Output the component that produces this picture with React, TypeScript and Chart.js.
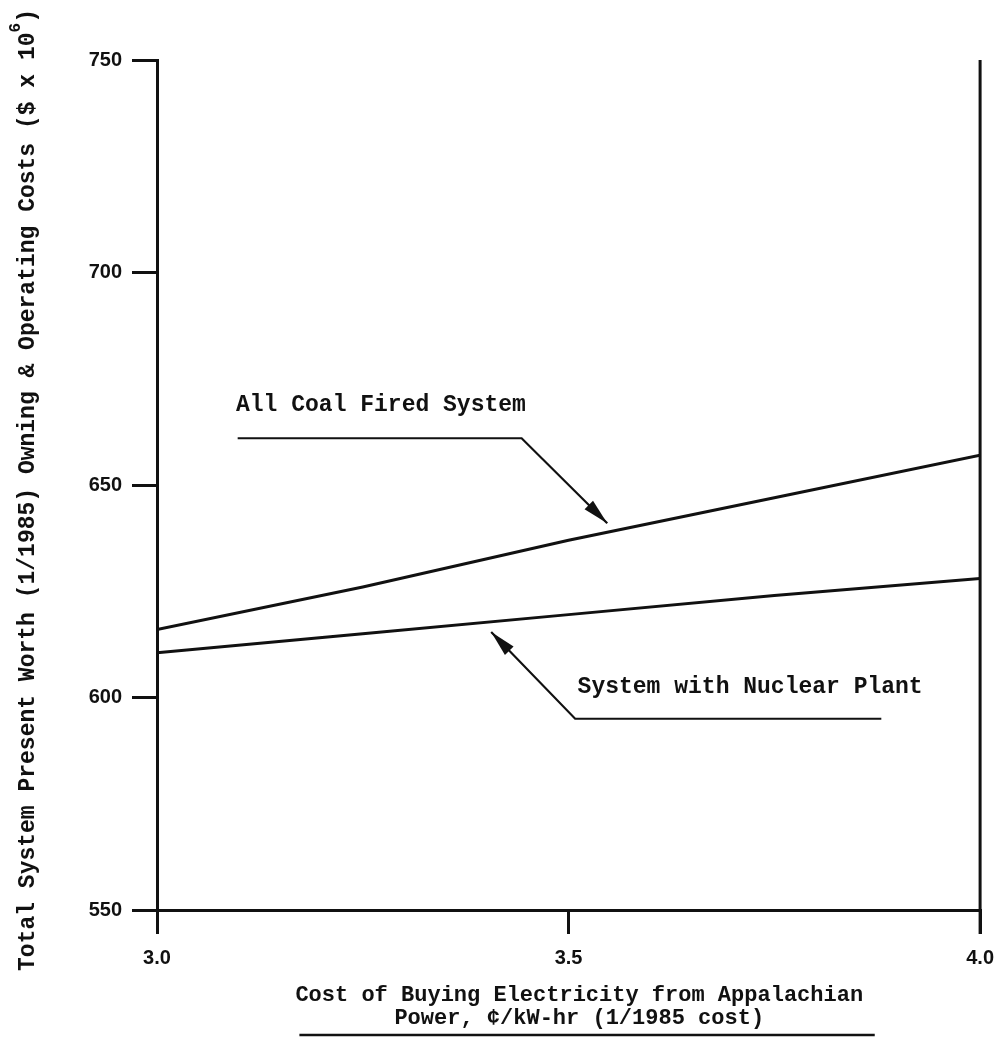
import React, { useEffect, useRef } from 'react';
import { Chart, registerables } from 'chart.js';

Chart.register(...registerables);

// ---- data ----
const costPerKwh = [3.0, 3.25, 3.5, 3.75, 4.0];
const coalFired = [616, 626, 637, 647, 657];
const withNuclear = [610.5, 615, 619.5, 624, 628];
const xTickValues = [3.0, 3.5, 4.0];
const yTickValues = [550, 600, 650, 700, 750];
const yTitleMain = 'Total System Present Worth (1/1985) Owning & Operating Costs ($ x 10';
const yTitleSup = '6';
const yTitleEnd = ')';
const xTitleLines = ['Cost of Buying Electricity from Appalachian', 'Power, \u00a2/kW-hr (1/1985 cost)'];
const coalLabel = 'All Coal Fired System';
const nuclearLabel = 'System with Nuclear Plant';

// annotation anchors in data units (x, y)
const coalTextAt = [3.096, 668.8];
const coalLeader = [[3.098, 661], [3.443, 661], [3.547, 641]];
const nuclearTextAt = [3.511, 602.5];
const nuclearLeader = [[3.88, 595], [3.508, 595], [3.406, 615.4]];
const xTitleCenter = 3.513;
const xTitleUnderline = [3.173, 3.872];

const INK = '#111111';
const MONO = '"Liberation Mono", "DejaVu Sans Mono", monospace';
const SANS = '"Liberation Sans", Arial, sans-serif';

function drawArrow(ctx: CanvasRenderingContext2D, pts: number[][]) {
  ctx.beginPath();
  ctx.moveTo(pts[0][0], pts[0][1]);
  for (let i = 1; i < pts.length; i++) ctx.lineTo(pts[i][0], pts[i][1]);
  ctx.stroke();
  const [x1, y1] = pts[pts.length - 2];
  const [x2, y2] = pts[pts.length - 1];
  const ang = Math.atan2(y2 - y1, x2 - x1);
  const len = 26;
  const hw = 6;
  const bx = x2 - len * Math.cos(ang);
  const by = y2 - len * Math.sin(ang);
  ctx.beginPath();
  ctx.moveTo(x2, y2);
  ctx.lineTo(bx + hw * Math.sin(ang), by - hw * Math.cos(ang));
  ctx.lineTo(bx - hw * Math.sin(ang), by + hw * Math.cos(ang));
  ctx.closePath();
  ctx.fill();
}

const decorPlugin = {
  id: 'decor',
  afterDraw(chart: any) {
    const ctx: CanvasRenderingContext2D = chart.ctx;
    const xs = chart.scales.x;
    const ys = chart.scales.y;
    const area = chart.chartArea;
    const px = (v: number) => xs.getPixelForValue(v);
    const py = (v: number) => ys.getPixelForValue(v);
    ctx.save();
    ctx.strokeStyle = INK;
    ctx.fillStyle = INK;

    // right frame line
    ctx.lineWidth = 3;
    ctx.beginPath();
    ctx.moveTo(area.right, area.top);
    ctx.lineTo(area.right, area.bottom + 24);
    ctx.stroke();

    // annotations
    ctx.lineWidth = 2.2;
    ctx.font = `bold 23px ${MONO}`;
    ctx.textBaseline = 'middle';
    ctx.textAlign = 'left';
    ctx.fillText(coalLabel, px(coalTextAt[0]), py(coalTextAt[1]));
    drawArrow(ctx, coalLeader.map(([a, b]) => [px(a), py(b)]));
    ctx.fillText(nuclearLabel, px(nuclearTextAt[0]), py(nuclearTextAt[1]));
    drawArrow(ctx, nuclearLeader.map(([a, b]) => [px(a), py(b)]));

    // x title
    ctx.font = `bold 22px ${MONO}`;
    ctx.textAlign = 'center';
    ctx.fillText(xTitleLines[0], px(xTitleCenter), area.bottom + 85);
    ctx.fillText(xTitleLines[1], px(xTitleCenter), area.bottom + 108);
    ctx.lineWidth = 2.5;
    ctx.beginPath();
    ctx.moveTo(px(xTitleUnderline[0]), area.bottom + 125);
    ctx.lineTo(px(xTitleUnderline[1]), area.bottom + 125);
    ctx.stroke();

    // y title (rotated) with superscript
    ctx.translate(28, 490);
    ctx.rotate(-Math.PI / 2);
    const mainFont = `bold 23px ${MONO}`;
    const supFont = `bold 16px ${MONO}`;
    ctx.font = mainFont;
    const wMain = ctx.measureText(yTitleMain).width;
    const wEnd = ctx.measureText(yTitleEnd).width;
    ctx.font = supFont;
    const wSup = ctx.measureText(yTitleSup).width;
    const total = wMain + wSup + wEnd;
    let x0 = -total / 2;
    ctx.textAlign = 'left';
    ctx.font = mainFont;
    ctx.fillText(yTitleMain, x0, 0);
    x0 += wMain;
    ctx.font = supFont;
    ctx.fillText(yTitleSup, x0, -12);
    x0 += wSup;
    ctx.font = mainFont;
    ctx.fillText(yTitleEnd, x0, 0);
    ctx.restore();
  },
};

export default function App() {
  const ref = useRef<HTMLCanvasElement | null>(null);
  useEffect(() => {
    if (!ref.current) return;
    const line = (vals: number[]) => costPerKwh.map((x, i) => ({ x, y: vals[i] }));
    const chart = new Chart(ref.current, {
      type: 'line',
      data: {
        datasets: [
          { label: coalLabel, data: line(coalFired), borderColor: INK, borderWidth: 3, pointRadius: 0, tension: 0, fill: false },
          { label: nuclearLabel, data: line(withNuclear), borderColor: INK, borderWidth: 3, pointRadius: 0, tension: 0, fill: false },
        ],
      },
      options: {
        responsive: false,
        devicePixelRatio: 1,
        animation: false,
        layout: { padding: { left: 0, top: 60, right: 22, bottom: 0 } },
        plugins: { legend: { display: false }, tooltip: { enabled: false }, title: { display: false } },
        scales: {
          x: {
            type: 'linear',
            min: 3,
            max: 4,
            afterBuildTicks: (s: any) => { s.ticks = xTickValues.map((v) => ({ value: v })); },
            afterFit: (s: any) => { s.height = 135; },
            ticks: {
              callback: (v: any) => Number(v).toFixed(1),
              color: INK,
              font: { family: SANS, size: 20, weight: 'bold' },
              padding: 12,
              maxRotation: 0,
            },
            grid: { display: true, drawOnChartArea: false, drawTicks: true, tickLength: 24, color: INK, lineWidth: 3 },
            border: { display: true, color: INK, width: 3 },
          },
          y: {
            type: 'linear',
            min: 550,
            max: 750,
            afterBuildTicks: (s: any) => { s.ticks = yTickValues.map((v) => ({ value: v })); },
            afterFit: (s: any) => { s.width = 157; },
            ticks: {
              color: INK,
              font: { family: SANS, size: 20, weight: 'bold' },
              padding: 10,
            },
            grid: { display: true, drawOnChartArea: false, drawTicks: true, tickLength: 25, color: INK, lineWidth: 3 },
            border: { display: true, color: INK, width: 3 },
          },
        },
      },
      plugins: [decorPlugin],
    } as any);
    return () => chart.destroy();
  }, []);
  return (
    <div style={{ position: 'fixed', left: 0, top: 0, width: 1006, height: 1045, background: '#ffffff' }}>
      <canvas ref={ref} width={1006} height={1045} style={{ display: 'block', width: 1006, height: 1045 }} />
    </div>
  );
}
